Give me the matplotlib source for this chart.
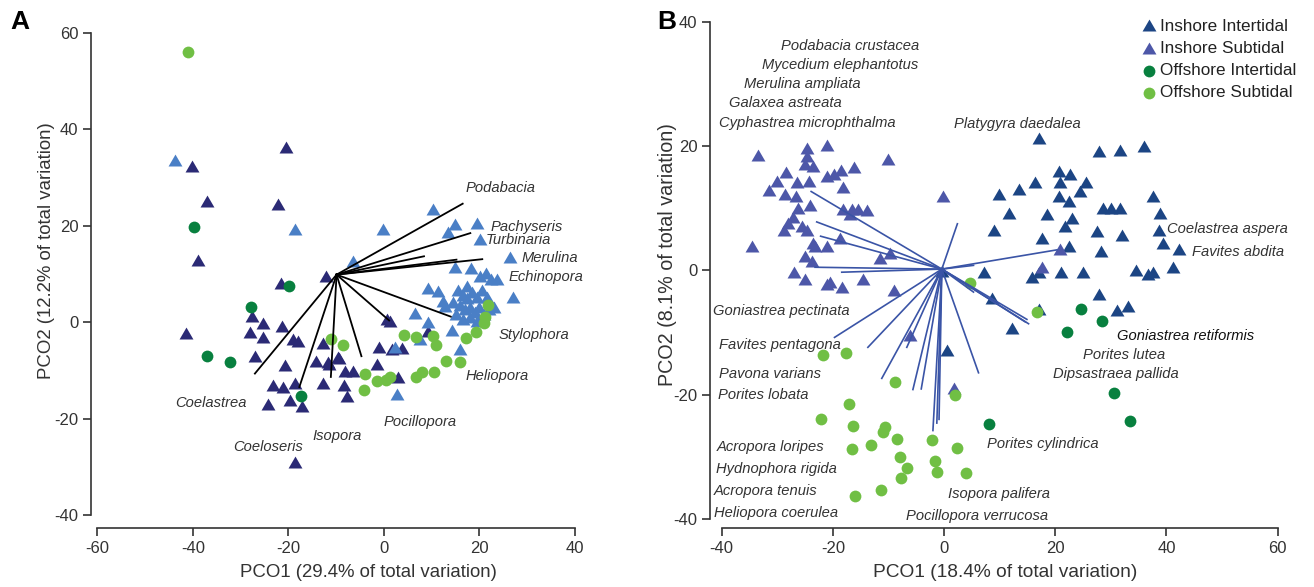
import matplotlib
matplotlib.use("Agg")
import matplotlib.pyplot as plt

plt.rcParams['font.family'] = ['Liberation Sans', 'DejaVu Sans']
plt.rcParams['axes.unicode_minus'] = False

# ---------------- Panel A data ----------------
a_in_inter_x = [-20.4, -40.2, -37, -22.1, -39, -12.1, -21.6, -41.4, -27.7, -25.2, -21.4, -28, -25.4, -27,
                -20.7, -19, -17.9, -23.2, -21.2, -18.6, -24.2, -19.7, -17.2, -18.6, -12.7, -14.2, -11.6,
                -9.6, -11.5, -12.7, -8.2, -6.4, -8.3, -7.7, -1, -1.5, 0.6, 1.6, 3.9, 3, 1.3, 9.3, -9.3]
a_in_inter_y = [36.1, 32.1, 24.9, 24.4, 12.8, 9.4, 8, -2.3, 1.2, -0.4, -1, -2.2, -3.2, -7.2,
                -9.1, -3.7, -4.1, -13.2, -13.5, -12.7, -17.1, -16.3, -17.6, -29.1, -4.4, -8.1, -8.4,
                -7.3, -8.9, -12.7, -10.3, -10.3, -13.2, -15.4, -5.4, -8.9, 0.4, -5.8, -5.6, -11.6, 0, -2, -7.5]

a_in_sub_x = [-43.8, -18.7, -0.1, -6.5, 10.2, 14.9, 13.5, 19.6, 20.1, 26.4, 14.9, 18.3, 20.1, 21.3, 22.4,
              23.6, 27, 9.3, 11.4, 12.4, 12.8, 6.5, 9.3, 17.3, 14.2, 15.9, 2.7, 2.3, 7.5,
              15.5, 16.5, 17.5, 18.5, 19.5, 16, 17, 18, 19, 20, 15, 16.5, 18, 19.5, 21, 22, 14.5,
              20.5, 21.5, 23]
a_in_sub_y = [33.5, 19.2, 19.2, 12.5, 23.3, 20.2, 18.5, 20.4, 17.1, 13.4, 11.3, 11.1, 9.5, 10.1, 8.7,
              8.7, 5.1, 7, 6.3, 4.2, 3.2, 1.7, -0.1, 7.3, -1.7, -5.8, -15.1, -5.4, -3.7,
              6.5, 5.5, 4.8, 6, 5, 3.5, 2.5, 3, 2, 3, 1.5, 0.5, 1, 0, 1.5, 2.5, 4,
              6.5, 5, 3]

a_off_inter_x = [-39.7, -19.8, -27.8, -37, -32.2, -17.4]
a_off_inter_y = [19.7, 7.5, 3.2, -6.9, -8.2, -15.3]

a_off_sub_x = [-41, -11, -8.5, -4, -4.2, -1.5, 0.4, 1.3, 4.2, 6.7, 6.8, 8, 10.3, 10.5, 11, 13.1, 15.9,
               17.2, 19.2, 21, 21.1, 21.9]
a_off_sub_y = [56, -3.4, -4.7, -10.7, -14, -12.2, -12, -11.3, -2.6, -3, -11.3, -10.3, -2.8, -10.3, -4.6,
               -7.9, -8.1, -3.2, -1.9, -0.1, 1.1, 3.7]

a_origin = (-9.9, 9.9)
a_vec_x = [16.5, 18.1, 8.4, 15.2, 20.6, 14.0, 1.1, -4.7, -11.1, -17.7, -27.0]
a_vec_y = [24.6, 18.5, 13.7, 13.0, 13.1, 1.2, 0.4, -7.0, -11.3, -13.4, -10.6]

a_labels = ['Podabacia', 'Pachyseris', 'Turbinaria', 'Merulina', 'Echinopora', 'Stylophora',
            'Heliopora', 'Pocillopora', 'Isopora', 'Coeloseris', 'Coelastrea']
a_lab_x = [17, 22.4, 21.3, 28.9, 26.2, 24, 17.2, 0, -15, -31.6, -43.7]
a_lab_y = [27.9, 19.8, 17, 13.4, 9.5, -2.7, -11.2, -20.7, -23.6, -25.8, -16.7]

# ---------------- Panel B data ----------------
b_in_inter_x = [17.1, 27.9, 31.7, 36, 20.6, 22.7, 16.4, 20.9, 25.5, 24.5, 13.4, 9.9, 20.7, 22.5, 37.6,
                11.6, 18.5, 28.5, 30, 31.7, 38.8, 23.1, 21.8, 8.9, 27.5, 32, 38.7, 17.7, 39.3, 42.3,
                22.4, 28.2, 7.2, 15.8, 17, 21, 24.9, 34.5, 36.6, 37.6, 41.1, 8.6, 27.9, 31.1, 33.1,
                17, 12.2, 0.6, -0.4]
b_in_inter_y = [21.1, 19.1, 19.3, 19.8, 15.9, 15.3, 14, 14, 14, 12.6, 12.9, 12.1, 11.8, 11, 11.8,
                9, 8.9, 9.9, 9.9, 9.9, 9.1, 8.2, 7, 6.4, 6.2, 5.6, 6.4, 5.1, 4.3, 3.3,
                3.8, 3, -0.4, -1.3, -0.5, -0.4, -0.4, -0.1, -0.8, -0.5, 0.3, -4.6, -4, -6.6, -5.9,
                -6.4, -9.4, -13, -0.3]

b_in_sub_x = [-33.4, -24.6, -21, -10, -24.7, -25, -23.5, -28.4, -30, -31.4, -26.5, -24.2, -21, -19.8,
              -18.6, -16.2, -18.1, -28.6, -26.6, -24.1, -26.2, -27.1, -28, -28.8, -25.6, -24.6, -18.2,
              -16.6, -15.4, -13.9, -16.9, -23.6, -23.2, -21.1, -18.8, -34.5, -25, -23.8, -27, -25,
              -21, -20.5, -18.4, -14.5, -11.5, -9.7, -9, -0.2, -6.1, 1.7, 17.6, 20.9]
b_in_sub_y = [18.4, 19.6, 20.1, 17.8, 18.2, 16.9, 16.6, 15.7, 14.2, 12.7, 14.1, 14.2, 15.1, 15.3,
              16, 16.5, 13.3, 12.2, 11.8, 10.3, 9.9, 8.5, 7.5, 6.4, 7, 6.4, 9.8,
              9.7, 9.8, 9.5, 8.9, 4.3, 3.8, 3.8, 5.1, 3.7, 2.1, 1.3, -0.5, -1.6,
              -2.4, -2.1, -2.9, -1.6, 1.9, 2.6, -3.3, 11.8, -10.5, -19.1, 0.3, 3.2]

b_off_inter_x = [24.6, 28.4, 22.1, 30.5, 33.5, 8.1]
b_off_inter_y = [-6.3, -8.1, -9.9, -19.7, -24.3, -24.7]

b_off_sub_x = [-21.7, -17.6, -8.9, 2, -17.1, -22.2, -16.3, -10.6, -11, -13.2, -8.5, -16.6, -2.1, 2.4,
               -7.9, -6.6, -1.6, -1.3, -7.7, 4, -11.4, -16.1, 4.6, 16.7]
b_off_sub_y = [-13.6, -13.3, -18, -20, -21.5, -24, -25, -25.2, -26, -28.1, -27.2, -28.7, -27.3, -28.6,
               -30, -31.8, -30.7, -32.5, -33.4, -32.6, -35.4, -36.4, -2, -6.7]

b_origin = (-0.4, 0.2)
b_vec_x = [-23.9, -22.9, -22.2, -23.2, -18.4, 2.4, 20.3, 5.3, 5.3, 14.6, 14.9, 15.2, -19.7, -13.7,
           -11.2, -5.6, -4.1, -2.0, -0.9, -1.3, 6.2, -6.7]
b_vec_y = [12.7, 7.8, 5.5, 0.5, -0.3, 7.5, 3.3, 0.8, -3.5, -8.3, -7.9, -8.6, -10.8, -12.4,
           -17.4, -19.2, -19.1, -25.8, -24.0, -24.6, -16.5, -12.4]

b_labels = ['Podabacia crustacea', 'Mycedium elephantotus', 'Merulina ampliata', 'Galaxea astreata',
            'Cyphastrea microphthalma', 'Platygyra daedalea', 'Coelastrea aspera', 'Favites abdita',
            'Goniastrea retiformis', 'Porites lutea', 'Dipsastraea pallida', 'Porites cylindrica',
            'Isopora palifera', 'Pocillopora verrucosa', 'Goniastrea pectinata', 'Favites pentagona',
            'Pavona varians', 'Porites lobata', 'Acropora loripes', 'Hydnophora rigida',
            'Acropora tenuis', 'Heliopora coerulea']
b_lab_x = [-29.3, -32.7, -36, -38.7, -40.5, 1.8, 40.1, 44.6, 31.1, 25, 19.6, 7.7, 0.7, -6.8,
           -41.5, -40.5, -40.5, -40.6, -40.8, -41, -41.4, -41.4]
b_lab_y = [36.1, 33, 30, 26.9, 23.8, 23.5, 6.6, 2.9, -10.5, -13.7, -16.7, -28, -36.1, -39.5,
           -6.6, -12.1, -16.7, -20.1, -28.5, -32, -35.6, -39.1]

legend_names = ['Inshore Intertidal', 'Inshore Subtidal', 'Offshore Intertidal', 'Offshore Subtidal']

# ---------------- styling ----------------
TRI = [(-1, -0.72), (1, -0.72), (0, 1.0)]
A_NAVY = '#2b2a75'
A_LBLUE = '#4a7fc6'
B_DBLUE = '#1c4584'
B_PERI = '#4d57a8'
D_GREEN = '#08803f'
L_GREEN = '#70bf44'
TXT = '#333333'

fig = plt.figure(figsize=(13.14, 5.87), dpi=100)
axA = fig.add_axes([0.0693, 0.1005, 0.3737, 0.86])
axB = fig.add_axes([0.5403, 0.1005, 0.4346, 0.8726])


def style(ax, xl, yl, xb, yb, xt, yt, xlabel, ylabel, xls, yls, xlc, ylc):
    ax.set_xlim(*xl)
    ax.set_ylim(*yl)
    for s in ['top', 'right']:
        ax.spines[s].set_visible(False)
    ax.spines['left'].set_bounds(*yb)
    ax.spines['bottom'].set_bounds(*xb)
    for s in ['left', 'bottom']:
        ax.spines[s].set_color(TXT)
        ax.spines[s].set_linewidth(1.2)
    ax.set_xticks(xt)
    ax.set_yticks(yt)
    ax.tick_params(direction='out', length=6, width=1.2, colors=TXT, labelsize=12, pad=3)
    ax.set_xlabel(xlabel, fontsize=xls, color=TXT)
    ax.set_ylabel(ylabel, fontsize=yls, color=TXT)
    ax.xaxis.set_label_coords(*xlc)
    ax.yaxis.set_label_coords(*ylc)


# Panel A
axA.scatter(a_in_inter_x, a_in_inter_y, marker=TRI, s=100, color=A_NAVY, linewidths=0, zorder=2)
axA.scatter(a_in_sub_x, a_in_sub_y, marker=TRI, s=100, color=A_LBLUE, linewidths=0, zorder=3)
axA.scatter(a_off_inter_x, a_off_inter_y, marker='o', s=72, color=D_GREEN, linewidths=0, zorder=4)
axA.scatter(a_off_sub_x, a_off_sub_y, marker='o', s=72, color=L_GREEN, linewidths=0, zorder=4)
for vx, vy in zip(a_vec_x, a_vec_y):
    axA.plot([a_origin[0], vx], [a_origin[1], vy], color='black', lw=1.3, zorder=5)
for t, x, y in zip(a_labels, a_lab_x, a_lab_y):
    axA.text(x, y, t, fontsize=10.6, style='italic', color=TXT, ha='left', va='center', zorder=6)
style(axA, (-61.3, 41.5), (-42.6, 62), (-60, 40), (-40, 60),
      [-60, -40, -20, 0, 20, 40], [-40, -20, 0, 20, 40, 60],
      'PCO1 (29.4% of total variation)', 'PCO2 (12.2% of total variation)',
      13.4, 13.4, (0.564, -0.071), (-0.073, 0.549))

# Panel B
for vx, vy in zip(b_vec_x, b_vec_y):
    axB.plot([b_origin[0], vx], [b_origin[1], vy], color='#3a54a6', lw=1.2, zorder=5)
h1 = axB.scatter(b_in_inter_x, b_in_inter_y, marker=TRI, s=100, color=B_DBLUE, linewidths=0, zorder=3)
h2 = axB.scatter(b_in_sub_x, b_in_sub_y, marker=TRI, s=100, color=B_PERI, linewidths=0, zorder=3)
h3 = axB.scatter(b_off_inter_x, b_off_inter_y, marker='o', s=72, color=D_GREEN, linewidths=0, zorder=4)
h4 = axB.scatter(b_off_sub_x, b_off_sub_y, marker='o', s=72, color=L_GREEN, linewidths=0, zorder=4)
for t, x, y in zip(b_labels, b_lab_x, b_lab_y):
    c = '#111111' if t == 'Goniastrea retiformis' else TXT
    axB.text(x, y, t, fontsize=10.6, style='italic', color=c, ha='left', va='center', zorder=6)
style(axB, (-42.1, 60.6), (-41.5, 41), (-40, 60), (-40, 40),
      [-40, -20, 0, 20, 40, 60], [-40, -20, 0, 20, 40],
      'PCO1 (18.4% of total variation)', 'PCO2 (8.1% of total variation)',
      13.8, 14.2, (0.517, -0.071), (-0.057, 0.533))

leg = axB.legend([h1, h2, h3, h4], legend_names, loc='upper right', bbox_to_anchor=(1.044, 1.014),
                 frameon=False, fontsize=12.3, handletextpad=0.0, labelspacing=0.42,
                 borderaxespad=0.2, handlelength=1.2, scatterpoints=1)
for txt in leg.get_texts():
    txt.set_color('#222222')

fig.text(0.0075, 0.962, 'A', fontsize=19, fontweight='bold', va='center', ha='left')
fig.text(0.5, 0.962, 'B', fontsize=19, fontweight='bold', va='center', ha='left')

fig.savefig('out.png', dpi=100)
